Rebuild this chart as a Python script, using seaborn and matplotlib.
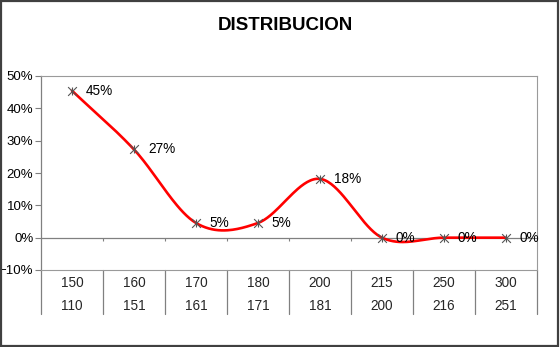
import numpy as np
import pandas as pd
import matplotlib
matplotlib.use("Agg")
import matplotlib.pyplot as plt
from matplotlib.transforms import blended_transform_factory
from matplotlib.ticker import PercentFormatter
from matplotlib.patches import Rectangle
import seaborn as sns

# Class limits (upper / lower) and share of items in each class
upper_limits = ["150", "160", "170", "180", "200", "215", "250", "300"]
lower_limits = ["110", "151", "161", "171", "181", "200", "216", "251"]
shares = [0.4545, 0.2727, 0.0455, 0.0455, 0.1818, 0.0, 0.0, 0.0]
title = "DISTRIBUCION"
y_ticks = [-0.1, 0.0, 0.1, 0.2, 0.3, 0.4, 0.5]

sns.set_theme(style="white")
plt.rcParams["font.family"] = ["Liberation Sans", "DejaVu Sans"]

W, H, DPI = 560, 347, 100
fig = plt.figure(figsize=(W / DPI, H / DPI), dpi=DPI)
ax = fig.add_axes([41 / W, (H - 270) / H, (537 - 41) / W, (270 - 76) / H])

n = len(shares)
xs = np.arange(n, dtype=float)
ys = np.array(shares)


def smooth_curve(x, y, sx, sy, steps=40):
    """Catmull-Rom curve through the points, computed in screen-like units."""
    px, py = x * sx, y * sy
    px = np.concatenate([[2 * px[0] - px[1]], px, [2 * px[-1] - px[-2]]])
    py = np.concatenate([[2 * py[0] - py[1]], py, [2 * py[-1] - py[-2]]])
    out_x, out_y = [], []
    t = np.linspace(0, 1, steps)
    for i in range(1, len(px) - 2):
        p0, p1, p2, p3 = (np.array([px[j], py[j]]) for j in (i - 1, i, i + 1, i + 2))
        c1 = p1 + (p2 - p0) / 6
        c2 = p2 - (p3 - p1) / 6
        seg = ((1 - t) ** 3)[:, None] * p1 + (3 * (1 - t) ** 2 * t)[:, None] * c1 \
            + (3 * (1 - t) * t ** 2)[:, None] * c2 + (t ** 3)[:, None] * p2
        out_x.extend(seg[:, 0])
        out_y.extend(seg[:, 1])
    return np.array(out_x) / sx, np.array(out_y) / sy


cx, cy = smooth_curve(xs, ys, 62.0, 323.0)
curve = pd.DataFrame({"x": cx, "y": cy})
sns.lineplot(data=curve, x="x", y="y", sort=False, estimator=None,
             color="#FF0000", linewidth=1.9, ax=ax, zorder=3)

points = pd.DataFrame({"x": xs, "y": ys})
for mk in ["x", "|"]:
    sns.scatterplot(data=points, x="x", y="y", marker=mk, s=40,
                    color="#555555", linewidth=0.8, ax=ax, zorder=4)

for x, y in zip(xs, ys):
    ax.annotate(f"{y:.0%}", (x, y), xytext=(10, 0), textcoords="offset points",
                ha="left", va="center", fontsize=9.8, color="black", zorder=5)

ax.set_xlim(-0.5, n - 0.5)
ax.set_ylim(-0.1, 0.5)
ax.set_yticks(y_ticks)
ax.yaxis.set_major_formatter(PercentFormatter(1.0, decimals=0))
ax.set_xticks([])
ax.set_xlabel("")
ax.set_ylabel("")
ax.tick_params(axis="y", which="both", left=True, length=4, width=0.8,
               color="#808080", labelsize=9.5, labelcolor="black", pad=1.5)

for side in ["top", "right", "bottom"]:
    ax.spines[side].set_color("#9a9a9a")
    ax.spines[side].set_linewidth(0.8)
ax.spines["left"].set_color("#808080")
ax.spines["left"].set_linewidth(0.9)

# category axis at zero with small downward ticks between classes
ax.axhline(0, color="#808080", linewidth=0.9, zorder=2)
ax.vlines(np.arange(n - 1) + 0.5, -0.0095, 0, color="#808080", linewidth=0.8, zorder=2)

# table of class limits below the plot area
tr = blended_transform_factory(ax.transData, fig.transFigure)
for b in np.arange(n + 1) - 0.5:
    ax.plot([b, b], [1 - 270 / H, 1 - 314 / H], transform=tr, color="#808080",
            linewidth=0.9, clip_on=False)
for x, up, lo in zip(xs, upper_limits, lower_limits):
    ax.text(x, 1 - 283 / H, up, transform=tr, ha="center", va="center", fontsize=9.8)
    ax.text(x, 1 - 306 / H, lo, transform=tr, ha="center", va="center", fontsize=9.8)

fig.text(285 / W, 1 - 25 / H, title, ha="center", va="center",
         fontsize=13.5, fontweight="bold", color="black")

# outer chart border
fig.patches.append(Rectangle((0.001, 0.002), 0.996, 0.996, transform=fig.transFigure,
                             fill=False, edgecolor="#404040", linewidth=1.6))

fig.savefig("out.png", dpi=DPI, facecolor="white")
